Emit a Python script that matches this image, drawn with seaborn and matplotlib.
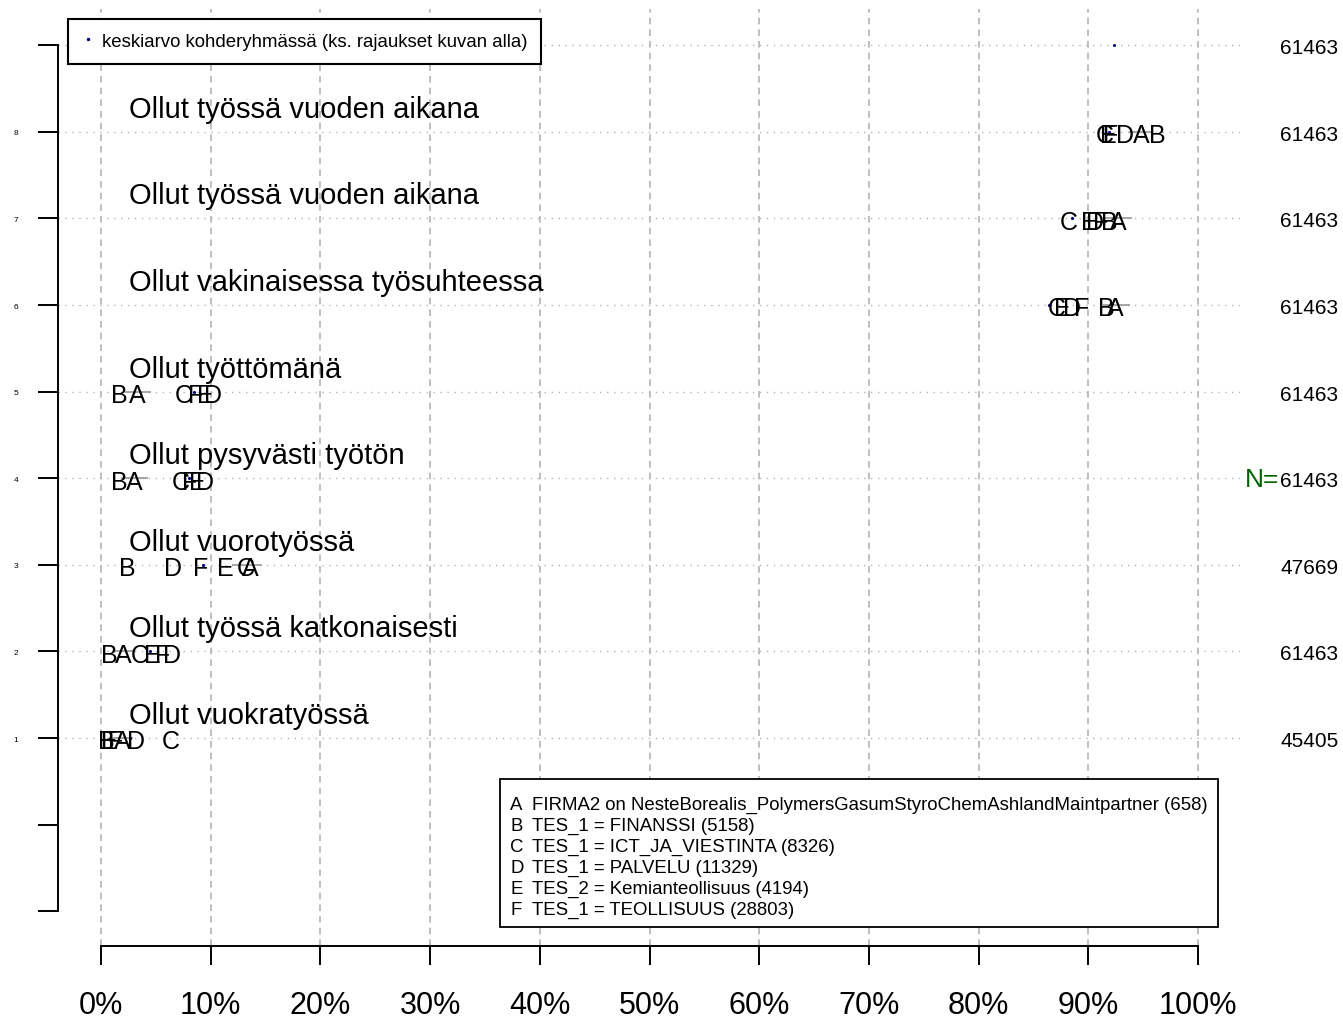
import matplotlib
matplotlib.use("Agg")
import matplotlib.pyplot as plt
from matplotlib.transforms import offset_copy
from matplotlib.lines import Line2D
from matplotlib.patches import Rectangle
import seaborn as sns
import pandas as pd

# ---------------- data ----------------
rows = [1, 2, 3, 4, 5, 6, 7, 8]
row_labels = [
    "Ollut vuokratyössä",
    "Ollut työssä katkonaisesti",
    "Ollut vuorotyössä",
    "Ollut pysyvästi työtön",
    "Ollut työttömänä",
    "Ollut vakinaisessa työsuhteessa",
    "Ollut työssä vuoden aikana",
    "Ollut työssä vuoden aikana",
]
group_letters = ["A", "B", "C", "D", "E", "F"]
val_A = [1.9, 2.0, 13.6, 3.0, 3.3, 92.5, 92.7, 94.8]
val_B = [0.5, 0.8, 2.4, 1.7, 1.7, 91.6, 91.9, 96.3]
val_C = [6.4, 3.5, 13.2, 7.3, 7.5, 87.1, 88.2, 91.5]
val_D = [3.2, 6.5, 6.6, 9.5, 10.2, 88.5, 90.6, 93.3]
val_E = [0.8, 4.7, 11.3, 8.8, 9.5, 87.6, 90.1, 91.8]
val_F = [1.3, 5.6, 9.1, 8.1, 8.6, 89.4, 91.1, 92.0]
ci_A_low = [0.9, 1.0, 11.9, 1.8, 2.2, 91.3, 91.5, 93.7]
ci_A_high = [2.9, 3.0, 14.7, 4.3, 4.6, 93.8, 94.0, 95.9]

mean_rows = [1, 2, 3, 4, 5, 6, 7, 8, 9]
mean_vals = [2.6, 4.5, 9.3, 8.0, 8.5, 86.4, 88.5, 91.9, 92.3]
n_rows = [1, 2, 3, 4, 5, 6, 7, 8, 9]
n_vals = [45405, 61463, 47669, 61463, 61463, 61463, 61463, 61463, 61463]

legend_lines = [
    ("A", "FIRMA2 on NesteBorealis_PolymersGasumStyroChemAshlandMaintpartner (658)"),
    ("B", "TES_1 = FINANSSI (5158)"),
    ("C", "TES_1 = ICT_JA_VIESTINTA (8326)"),
    ("D", "TES_1 = PALVELU (11329)"),
    ("E", "TES_2 = Kemianteollisuus (4194)"),
    ("F", "TES_1 = TEOLLISUUS (28803)"),
]
mean_label = "keskiarvo kohderyhmässä (ks. rajaukset kuvan alla)"
x_ticks = [0, 10, 20, 30, 40, 50, 60, 70, 80, 90, 100]
x_ticklabels = [f"{t}%" for t in x_ticks]
y_ticks = [-1, 0, 1, 2, 3, 4, 5, 6, 7, 8, 9]
y_ticklabels = ["", "", "1", "2", "3", "4", "5", "6", "7", "8", ""]

# ---------------- style ----------------
sns.set_theme(style="white")
plt.rcParams["font.family"] = ["Liberation Sans", "DejaVu Sans"]
plt.rcParams["text.color"] = "black"
plt.rcParams["xtick.labelcolor"] = "black"
plt.rcParams["ytick.labelcolor"] = "black"
plt.rcParams["legend.labelcolor"] = "black"

W, H = 1343, 1020
fig = plt.figure(figsize=(W / 100, H / 100), dpi=100)
L, R, T, B = 58, 1240, 10, 947
ax = fig.add_axes([L / W, 1 - B / H, (R - L) / W, (B - T) / H])

px_per_pct = 10.97
x0 = 101
ax.set_xlim((L - x0) / px_per_pct, (R - x0) / px_per_pct)
row_px = 86.6
ax.set_ylim(1 - (B - 739) / row_px, 1 + (739 - T) / row_px)

# grid lines
for t in x_ticks:
    ax.axvline(t, color="#b4b4b4", lw=1.2, dashes=(4, 3), zorder=0)
for r in mean_rows:
    ax.axhline(r, color="#b4b4b4", lw=1.0, dashes=(1, 4), zorder=0)

# CI segments for A
ax.hlines(rows, ci_A_low, ci_A_high, color="#a0a0a0", lw=1.3, zorder=1)

# mean dots
mean_df = pd.DataFrame({"x": mean_vals, "y": mean_rows})
sns.scatterplot(data=mean_df, x="x", y="y", ax=ax, color="#000080", s=5,
                linewidth=0, zorder=2, legend=False)

# letters
letter_trans = offset_copy(ax.transData, fig=fig, x=0, y=-7.5, units="points")
all_vals = [val_A, val_B, val_C, val_D, val_E, val_F]
for letter, vals in zip(group_letters, all_vals):
    for r, v in zip(rows, vals):
        ax.text(v, r, letter, transform=letter_trans, ha="center", va="baseline",
                fontsize=18, color="black", zorder=3)

# row labels
label_trans = offset_copy(ax.transData, fig=fig, x=0, y=10.8, units="points")
for r, lab in zip(rows, row_labels):
    ax.text(2.55, r, lab, transform=label_trans, ha="left", va="baseline",
            fontsize=21, color="black", zorder=3)

# N column
n_trans = offset_copy(ax.transData, fig=fig, x=0, y=-5.8, units="points")
for r, n in zip(n_rows, n_vals):
    ax.text(112.8, r, str(n), transform=n_trans, ha="right", va="baseline",
            fontsize=15, color="black", clip_on=False)
ax.text(107.4, 4, "N=", transform=n_trans, ha="right", va="baseline",
        fontsize=19, color="#006400", clip_on=False)

# axes styling
for s in ["top", "right"]:
    ax.spines[s].set_visible(False)
for s in ["left", "bottom"]:
    ax.spines[s].set_color("black")
    ax.spines[s].set_linewidth(1.4)
ax.spines["left"].set_bounds(-1, 9)
ax.spines["bottom"].set_bounds(0, 100)
ax.set_xticks(x_ticks)
ax.set_xticklabels(x_ticklabels)
ax.set_yticks(y_ticks)
ax.set_yticklabels(y_ticklabels)
ax.tick_params(axis="x", direction="out", length=13.7, width=1.4, color="black",
               labelcolor="black", labelsize=22, pad=18, bottom=True)
ax.tick_params(axis="y", direction="out", length=14.4, width=1.4, color="black",
               labelcolor="black", labelsize=6, pad=14, left=True)
ax.set_xlabel("")
ax.set_ylabel("")

# top legend
handle = Line2D([], [], marker="o", markersize=1.5, color="#000080", linestyle="none")
leg = ax.legend([handle], [mean_label], loc="upper left",
                bbox_to_anchor=(68 / W, 1 - 20 / H), bbox_transform=fig.transFigure,
                borderaxespad=0, frameon=True, fancybox=False, edgecolor="black",
                framealpha=1, fontsize=13.4, handlelength=0.6, handletextpad=0.45,
                borderpad=0.75, labelcolor="black")
leg.get_frame().set_linewidth(1.5)
leg.set_zorder(5)

# bottom legend box
fig.add_artist(Rectangle((500 / W, 1 - 928 / H), 718 / W, 148 / H,
                         transform=fig.transFigure, fill=True, facecolor="white",
                         edgecolor="black", lw=1.3, zorder=4))
for i, (let, desc) in enumerate(legend_lines):
    yb = 1 - (810 + 21 * i) / H
    fig.text(510 / W, yb, let, ha="left", va="baseline", fontsize=13.4,
             color="black", zorder=5)
    fig.text(532 / W, yb, desc, ha="left", va="baseline", fontsize=13.4,
             color="black", zorder=5)

fig.savefig("out.png", dpi=100)
